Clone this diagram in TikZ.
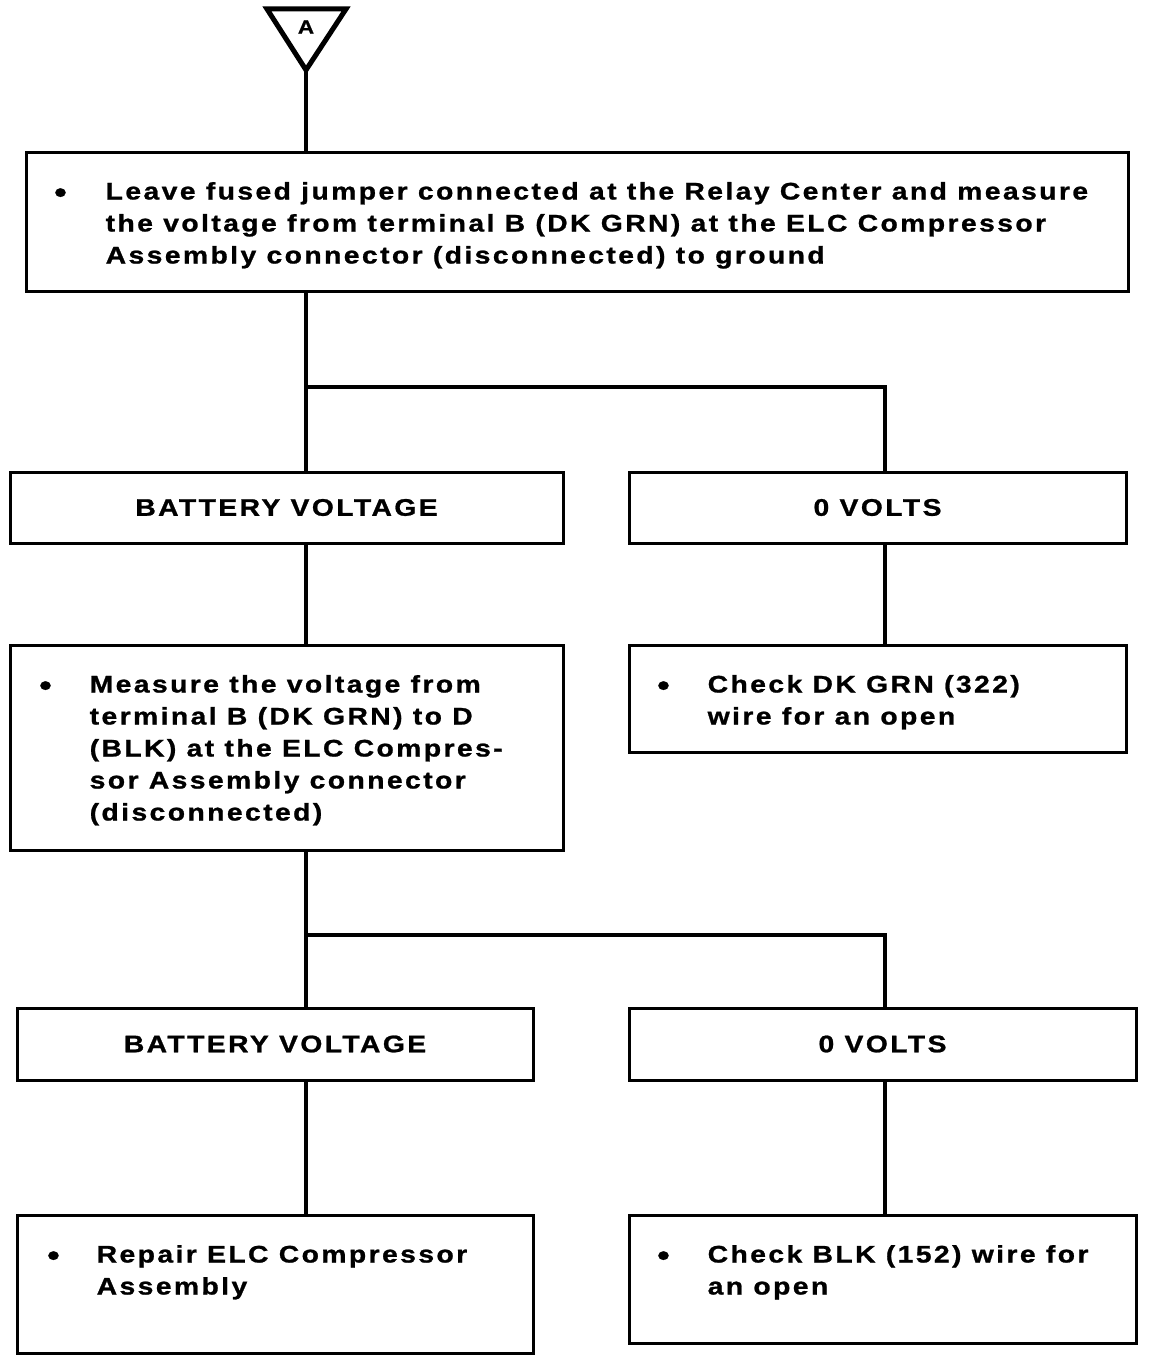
\documentclass[tikz,border=0pt]{standalone}
\usepackage{fontspec}
\newfontfamily\flowfont{Liberation Sans}[LetterSpace=10,FakeStretch=1.18,FakeBold=1]
\begin{document}
\begin{tikzpicture}[x=1pt,y=-1pt,
  box/.style={draw, line width=3pt, rectangle, inner sep=0pt},
  conn/.style={line width=4.5pt},
  txt/.style={inner sep=0pt, font=\flowfont\bfseries\fontsize{24}{32}\selectfont},
  bul/.style={inner sep=0pt, font=\flowfont\bfseries\fontsize{30}{32}\selectfont}
]
\useasboundingbox (0,0) rectangle (1152,1362);
% columns
\coordinate (colL) at (306,0);
\coordinate (colR) at (885,0);
% start triangle
\coordinate (apex) at (306,70);
\draw[line width=5pt, line join=miter] (267,9) -- (346,9) -- (apex) -- cycle;
\node[inner sep=0pt, font=\flowfont\bfseries\fontsize{19}{22}\selectfont] (lblA) at (306,27) {A};
% boxes
\node[box, minimum width=1102, minimum height=139] (b1) at (577,221.5) {};
\node[box, minimum width=553, minimum height=71, txt] (bv1) at (286.5,507.5) {BATTERY VOLTAGE};
\node[box, minimum width=497, minimum height=71, txt] (ov1) at (877.5,507.5) {0 VOLTS};
\node[box, minimum width=553, minimum height=205] (m1) at (286.5,747.5) {};
\node[box, minimum width=497, minimum height=107] (c1) at (877.5,698.5) {};
\node[box, minimum width=516, minimum height=72, txt] (bv2) at (275,1044) {BATTERY VOLTAGE};
\node[box, minimum width=507, minimum height=72, txt] (ov2) at (882.5,1044) {0 VOLTS};
\node[box, minimum width=516, minimum height=138] (r1) at (275,1284) {};
\node[box, minimum width=507, minimum height=128] (c2) at (882.5,1279) {};
% texts
\node[bul, anchor=base] (b1d) at ([shift={(36,52)}]b1.north west) {•};
\node[txt, anchor=base west] (b1t) at ([shift={(81,49)}]b1.north west)
  {\parbox[t]{1050pt}{\raggedright Leave fused jumper connected at the Relay Center and measure\\
   the voltage from terminal B (DK GRN) at the ELC Compressor\\
   Assembly connector (disconnected) to ground}};
\node[bul, anchor=base] (m1d) at ([shift={(37,52)}]m1.north west) {•};
\node[txt, anchor=base west] (m1t) at ([shift={(81,49)}]m1.north west)
  {\parbox[t]{470pt}{\raggedright Measure the voltage from\\
   terminal B (DK GRN) to D\\
   (BLK) at the ELC Compres-\\
   sor Assembly connector\\
   (disconnected)}};
\node[bul, anchor=base] (c1d) at ([shift={(36,52)}]c1.north west) {•};
\node[txt, anchor=base west] (c1t) at ([shift={(80,49)}]c1.north west)
  {\parbox[t]{420pt}{\raggedright Check DK GRN (322)\\ wire for an open}};
\node[bul, anchor=base] (r1d) at ([shift={(38,52)}]r1.north west) {•};
\node[txt, anchor=base west] (r1t) at ([shift={(81,49)}]r1.north west)
  {\parbox[t]{420pt}{\raggedright Repair ELC Compressor\\ Assembly}};
\node[bul, anchor=base] (c2d) at ([shift={(36,52)}]c2.north west) {•};
\node[txt, anchor=base west] (c2t) at ([shift={(80,49)}]c2.north west)
  {\parbox[t]{420pt}{\raggedright Check BLK (152) wire for\\ an open}};
% connectors
\draw[conn] (apex) -- (apex |- b1.north);
\draw[conn] (b1.south -| colL) -- (bv1.north -| colL);
\coordinate (j1) at (306,387);
\draw[conn] (j1) -| (ov1.north -| colR);
\draw[conn] (bv1.south -| colL) -- (m1.north -| colL);
\draw[conn] (ov1.south -| colR) -- (c1.north -| colR);
\draw[conn] (m1.south -| colL) -- (bv2.north -| colL);
\coordinate (j2) at (306,935);
\draw[conn] (j2) -| (ov2.north -| colR);
\draw[conn] (bv2.south -| colL) -- (r1.north -| colL);
\draw[conn] (ov2.south -| colR) -- (c2.north -| colR);
\end{tikzpicture}
\end{document}
